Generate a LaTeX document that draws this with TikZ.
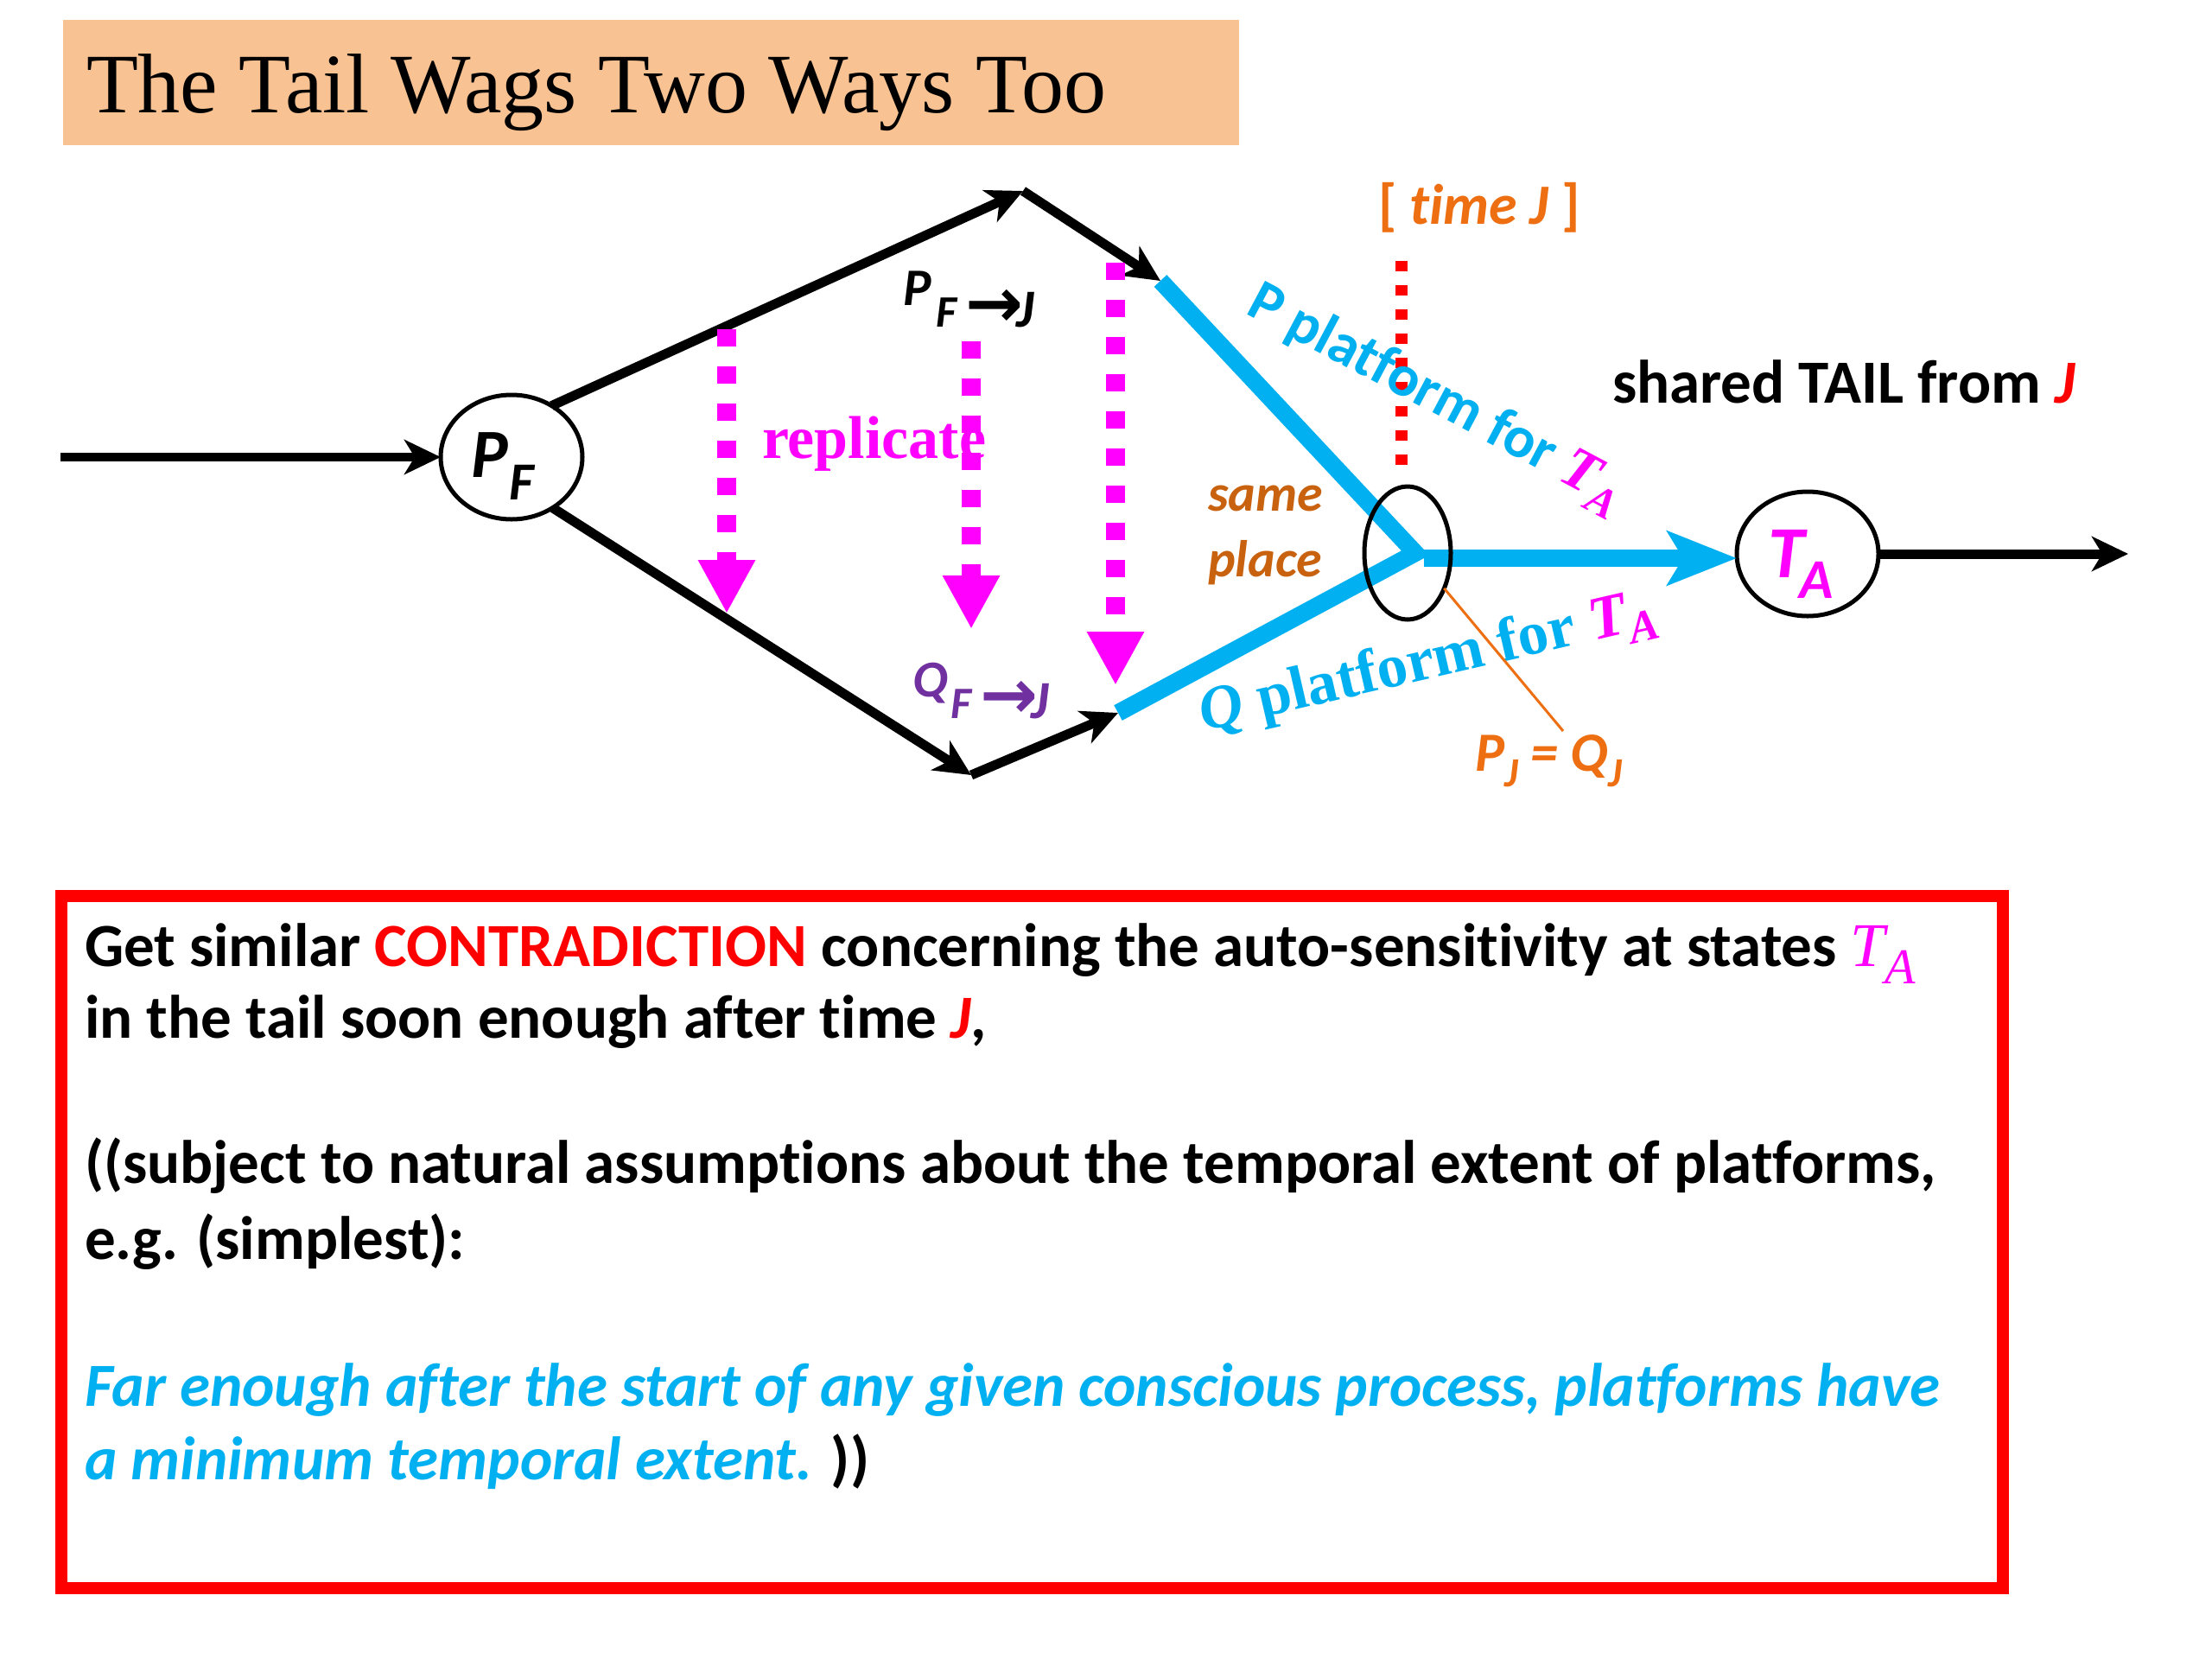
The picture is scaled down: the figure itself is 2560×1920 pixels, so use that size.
\documentclass[tikz,border=0pt]{standalone}
\usepackage{fontspec}
\setmainfont{Carlito}[Ligatures=NoCommon]
\newfontfamily\serif{Liberation Serif}
\newfontfamily\arrowf{DejaVu Sans}
\usetikzlibrary{arrows.meta,shapes.geometric}
\definecolor{peach}{HTML}{F8C293}
\definecolor{cy}{HTML}{00B0F0}
\definecolor{mag}{HTML}{FF00FF}
\definecolor{purp}{HTML}{7030A0}
\definecolor{org}{HTML}{EE6E12}
\definecolor{dorg}{HTML}{C8620F}
\newcommand{\fsz}[1]{\fontsize{#1}{#1}\selectfont}
\begin{document}
\begin{tikzpicture}[x=1pt,y=-1pt,
  txt/.style={anchor=base west, inner sep=0pt, outer sep=0pt},
  blk/.style={draw=black, line width=11pt, -{Stealth[length=42pt,width=40pt,inset=12pt]}},
  cyl/.style={draw=cy, line width=20pt},
  magarrow/.style={draw=mag, line width=22pt, dash pattern=on 20pt off 23pt, -{Triangle[length=62pt,width=62pt]}},
  reddot/.style={draw=red, line width=14pt, dash pattern=on 12pt off 16pt},
  statenode/.style={ellipse, draw=black, line width=5pt, inner sep=0pt, outer sep=0pt}]
\useasboundingbox (0,0) rectangle (2560,1920);
% title
\node (titlebox) [fill=peach, anchor=north west, minimum width=1361pt, minimum height=145pt, inner sep=0pt, outer sep=0pt] at (73,23) {};
\node (title) [txt] at (100,130) {\serif\fsz{98}The Tail Wags Two Ways Too};
% coordinates
\coordinate (in) at (70,529);
\coordinate (top) at (1184,221);
\coordinate (bot) at (1124,897);
\coordinate (ptop) at (1343,325);
\coordinate (qbot) at (1294,825);
\coordinate (jn) at (1638,640);
\coordinate (jr) at (1648,646);
\coordinate (out) at (2463,641);
% state nodes
\node (PF) [statenode, minimum width=164pt, minimum height=144pt] at (592,529) {};
\node (TA) [statenode, minimum width=164pt, minimum height=144pt] at (2092,641) {};
% black connectors
\draw[blk, line width=10pt] (in) -- (PF.west);
\draw[blk] (PF.52) -- (top);
\draw[blk] (top) -- (ptop);
\draw[blk] (PF.-51) -- (bot);
\draw[blk] (bot) -- (qbot);
\draw[blk] (TA.east) -- (out);
% cyan platforms
\draw[cyl, line join=miter] (ptop) -- (jn) -- (qbot);
\draw[cyl, -{Stealth[length=80pt,width=62pt,inset=18pt]}] (jr) -- (jr -| TA.west);
% same place ellipse
\node (sp) [statenode, minimum width=100pt, minimum height=154pt] at (1629,640) {};
% magenta replicate arrows
\coordinate (m1a) at (841,381); \coordinate (m1b) at (841,710);
\coordinate (m2a) at (1124,395); \coordinate (m2b) at (1124,728);
\coordinate (m3a) at (1291,304); \coordinate (m3b) at (1291,793);
\draw[magarrow] (m1a) -- (m1b);
\draw[magarrow] (m2a) -- (m2b);
\draw[magarrow] (m3a) -- (m3b);
% red dotted time line
\coordinate (ra) at (1622,302); \coordinate (rb) at (1622,545);
\draw[reddot] (ra) -- (rb);
% labels
\node (pflbl) [txt] at (545,552) {\fsz{80}\bfseries\itshape P\kern2pt\raisebox{-26pt}{\fsz{62}F}};
\node (talbl) [txt, text=mag] at (2046,668) {\fsz{85}\bfseries\itshape T\kern-6pt\raisebox{-24pt}{\fsz{65}A}};
\node (pfj) [txt] at (1045,353) {\fsz{61}\bfseries\itshape P\kern6pt\raisebox{-25pt}{\fsz{52}F\kern10pt{\arrowf\bfseries\upshape\fsz{80}→}\kern-8pt\fsz{62}J}};
\node (qfj) [txt, text=purp] at (1056,806) {\fsz{60}\bfseries\itshape Q\kern4pt\raisebox{-25pt}{\fsz{52}F\kern10pt{\arrowf\bfseries\upshape\fsz{80}→}\kern-8pt\fsz{62}J}};
\node (repl) [txt, text=mag] at (882,530) {\serif\bfseries\fsz{70}replicate};
\node (timej) [txt, text=org] at (1595,259) {\fsz{66}\bfseries [ \itshape time J \upshape ]};
\node (same) [txt, text=dorg] at (1398,591) {\fsz{60}\bfseries\itshape same};
\node (place) [txt, text=dorg] at (1398,667) {\fsz{60}\bfseries\itshape place};
\node (pplat) [txt, text=cy, rotate=-28] at (1440,362) {\fsz{68}\bfseries P platform for {\serif\itshape\color{mag}T\raisebox{-15pt}{\fsz{50}A}}};
\node (qplat) [txt, text=cy, rotate=13] at (1393,846) {\serif\bfseries\fsz{71}{\itshape Q} platform for {\itshape\color{mag}T\raisebox{-14pt}{\fsz{52}A}}};
\node (tail) [txt] at (1866,466) {\fsz{71}\bfseries shared TAIL from {\itshape\color{red}J}};
\node (pj) [txt, text=org] at (1707,892) {\fsz{64}\bfseries\itshape P\raisebox{-18pt}{\fsz{48}J} = Q\raisebox{-18pt}{\fsz{48}J}};
\coordinate (pjtop) at (1809,846);
\draw[org, line width=3pt] (sp.-44) -- (pjtop);
% conclusion box
\node (box) [draw=red, line width=14pt, minimum width=2247pt, minimum height=801pt, anchor=north west, inner sep=0pt, outer sep=0pt] at (71,1037) {};
\node (l1) [txt] at (98,1118) {\fsz{71}\bfseries Get similar {\color{red}CONTRADICTION} concerning the auto-sensitivity at states {\mdseries\serif\itshape\color{mag}\fsz{72}T\raisebox{-20pt}{\fsz{58}A}}};
\node (l2) [txt] at (98,1201) {\fsz{71}\bfseries in the tail soon enough after time {\itshape\color{red}J},};
\node (l3) [txt] at (98,1369) {\fsz{71}\bfseries ((subject to natural assumptions about the temporal extent of platforms,};
\node (l4) [txt] at (98,1457) {\fsz{71}\bfseries e.g. (simplest):};
\node (l5) [txt, text=cy] at (98,1627) {\fsz{71}\bfseries\itshape Far enough after the start of any given conscious process, platforms have};
\node (l6) [txt] at (98,1712) {\fsz{71}\bfseries{\itshape\color{cy}a minimum temporal extent.} ))};
\end{tikzpicture}
\end{document}
